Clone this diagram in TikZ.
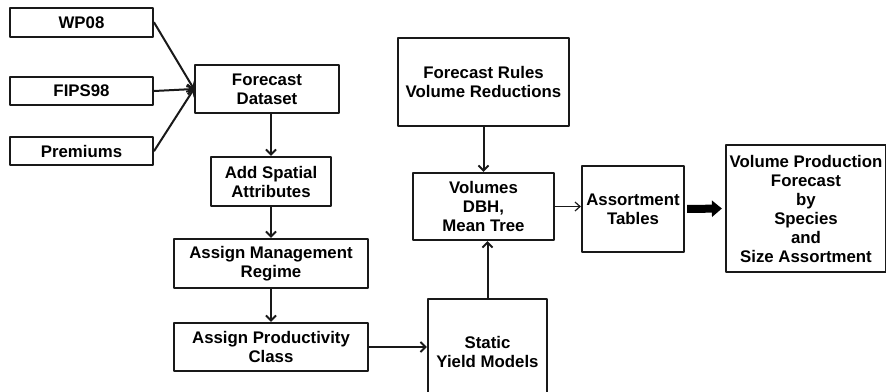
\documentclass[tikz,border=0pt]{standalone}
\usepackage{fontspec}
\setmainfont{Liberation Sans}
\usepackage{tikz}
\usetikzlibrary{arrows.meta}
\tikzset{
  every picture/.style={line join=round, line cap=round, >=Stealth},
  box/.style={draw=black!90, line width=2.2pt, align=center, inner sep=0pt,
    font=\fontsize{16.8}{19}\selectfont\bfseries},
  link/.style={-{Straight Barb[length=5pt,width=10pt]}, line width=2pt, black!90},
  thinlink/.style={-{Straight Barb[length=5pt,width=9pt]}, line width=1.2pt, black!90},
  bigarrow/.style={-{Triangle[length=10pt,width=16pt]}, line width=8pt, line cap=butt, black},
}

\begin{document}
\begin{tikzpicture}[x=1pt,y=-1pt]
\useasboundingbox (0,0) rectangle (886,391);
% inputs
\node[box, minimum width=143pt, minimum height=29pt] (wp08) at (81.5,22.5) {WP08};
\node[box, minimum width=143pt, minimum height=28pt] (fips98) at (81.5,91) {FIPS98};
\node[box, minimum width=143pt, minimum height=28pt] (premiums) at (81.5,151) {Premiums};
% left column
\node[box, minimum width=144pt, minimum height=48pt] (fcdata) at (267,89) {Forecast\\Dataset};
\node[box, minimum width=120pt, minimum height=49pt] (spatial) at (271,181.5) {Add Spatial\\Attributes};
\node[box, minimum width=194pt, minimum height=49pt] (mgmt) at (271,263.5) {Assign Management\\Regime};
\node[box, minimum width=194pt, minimum height=48pt] (prod) at (271,347) {Assign Productivity\\Class};
% middle column
\node[box, minimum width=171pt, minimum height=88pt] (rules) at (483.5,82) {Forecast Rules\\Volume Reductions};
\node[box, minimum width=141pt, minimum height=67pt] (volumes) at (483.5,206.5) {Volumes\\DBH,\\Mean Tree};
\node[box, minimum width=119pt, minimum height=106pt] (static) at (487.5,352) {Static\\Yield Models};
% right
\node[box, minimum width=102pt, minimum height=86pt] (assort) at (633,209) {Assortment\\Tables};
\node[box, minimum width=160pt, minimum height=127pt] (output) at (806,208.5)
  {Volume Production\\Forecast\\by\\Species\\and\\Size Assortment};

\draw[link] (wp08.east) -- (fcdata.west);
\draw[link] (fips98.east) -- (fcdata.west);
\draw[link] (premiums.east) -- (fcdata.west);
\draw[link] (spatial.north |- fcdata.south) -- (spatial.north);
\draw[link] (spatial.south) -- (mgmt.north);
\draw[link] (mgmt.south) -- (prod.north);
\draw[link] (prod.east) -- (prod.east -| static.west);
\draw[link] (static.north) -- (static.north |- volumes.south);
\draw[link] (rules.south) -- (volumes.north);
\draw[thinlink] (volumes.east) -- (volumes.east -| assort.west);
\draw[bigarrow, shorten <=2pt, shorten >=3pt] (assort.east) -- (output.west);
\end{tikzpicture}
\end{document}
